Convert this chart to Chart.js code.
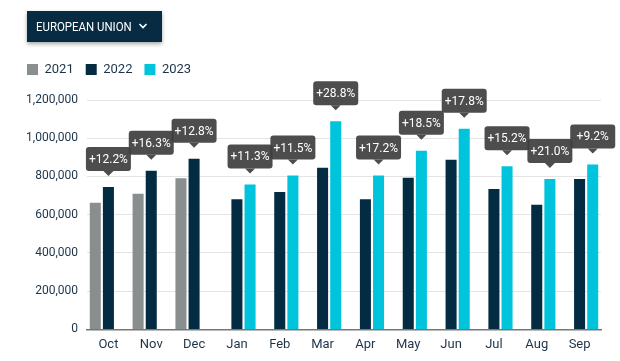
<!DOCTYPE html>
<html>
<head>
<meta charset="utf-8">
<script src="https://cdn.jsdelivr.net/npm/chart.js@4.4.0/dist/chart.umd.min.js"></script>
<style>
  body { margin: 0; background: #fff; font-family: Roboto, sans-serif; }
  #wrap { position: relative; width: 620px; height: 361px; }
  #region {
    position: absolute; left: 27px; top: 11px; width: 135px; height: 31px;
    background: #062b42; color: #fff; font-size: 13px; box-sizing: border-box;
    line-height: 31px; box-shadow: 0 2px 4px rgba(0,0,0,0.35);
  }
  #region .txt { position: absolute; left: 9px; top: 0; transform: scaleX(0.88); transform-origin: left center; white-space: nowrap; }
  #region svg { position: absolute; left: 111px; top: 11px; }
  canvas { position: absolute; left: 0; top: 0; }
</style>
</head>
<body>
<div id="wrap">
  <canvas id="tradeChart" width="620" height="361"></canvas>
  <div id="region"><span class="txt">EUROPEAN UNION</span>
    <svg width="10" height="8" viewBox="0 0 10 8"><polyline points="1.5,2 5,5.5 8.5,2" fill="none" stroke="#fff" stroke-width="1.6"/></svg>
  </div>
</div>
<script>
var months = ['Oct', 'Nov', 'Dec', 'Jan', 'Feb', 'Mar', 'Apr', 'May', 'Jun', 'Jul', 'Aug', 'Sep'];
var values2021 = [662000, 710000, 791000, null, null, null, null, null, null, null, null, null];
var values2022 = [745000, 830000, 893000, 681000, 719000, 846000, 681000, 793000, 888000, 735000, 652000, 787000];
var values2023 = [null, null, null, 758000, 805000, 1089000, 805000, 935000, 1049000, 853000, 787000, 863000];
var changeLabels = ['+12.2%', '+16.3%', '+12.8%', '+11.3%', '+11.5%', '+28.8%', '+17.2%', '+18.5%', '+17.8%', '+15.2%', '+21.0%', '+9.2%'];

var fontFamily = "Roboto, sans-serif";
var textColor = '#1d3448';

// draws the dark % change boxes above the latest bar of each month
var changeBoxes = {
    id: 'changeBoxes',
    afterDatasetsDraw: function (chart) {
        var ctx = chart.ctx;
        var m22 = chart.getDatasetMeta(1).data;
        var m23 = chart.getDatasetMeta(2).data;
        ctx.save();
        ctx.font = '12px ' + fontFamily;
        ctx.textAlign = 'center';
        ctx.textBaseline = 'middle';
        for (var i = 0; i < months.length; i++) {
            var bar = values2023[i] != null ? m23[i] : m22[i];
            var tipY = bar.y - 11;
            var w = 45, h = 24, caret = 5;
            var x0 = bar.x - w / 2, y0 = tipY - caret - h;
            ctx.fillStyle = 'rgba(62,62,62,0.92)';
            ctx.beginPath();
            ctx.roundRect(x0, y0, w, h, 3);
            ctx.fill();
            ctx.beginPath();
            ctx.moveTo(bar.x - 5, y0 + h);
            ctx.lineTo(bar.x, tipY);
            ctx.lineTo(bar.x + 5, y0 + h);
            ctx.closePath();
            ctx.fill();
            ctx.fillStyle = '#fff';
            ctx.fillText(changeLabels[i], bar.x, y0 + h / 2 + 1);
        }
        ctx.restore();
    }
};

// a bit more room between legend and plot
var legendGap = {
    id: 'legendGap',
    beforeInit: function (chart) {
        var fit = chart.legend.fit;
        chart.legend.fit = function () {
            fit.call(this);
            this.height += 14;
        };
    }
};

var ctx = document.getElementById('tradeChart');
new Chart(ctx, {
    type: 'bar',
    data: {
        labels: months,
        datasets: [
            { label: '2021', data: values2021, backgroundColor: '#898e8f' },
            { label: '2022', data: values2022, backgroundColor: '#032c42' },
            { label: '2023', data: values2023, backgroundColor: '#00c4dc' }
        ]
    },
    options: {
        responsive: false,
        animation: false,
        layout: { padding: { left: 15, right: 19, top: 51, bottom: 0 } },
        datasets: { bar: { categoryPercentage: 0.92, barPercentage: 0.84 } },
        plugins: {
            legend: {
                position: 'top',
                align: 'start',
                labels: {
                    boxWidth: 11, boxHeight: 11, padding: 12,
                    color: textColor,
                    font: { family: fontFamily, size: 13 }
                }
            },
            tooltip: { enabled: false }
        },
        scales: {
            x: {
                grid: { display: false, drawTicks: false },
                border: { color: '#777', width: 1.5 },
                ticks: { color: textColor, font: { family: fontFamily, size: 13 }, padding: 8 }
            },
            y: {
                min: 0, max: 1200000,
                grid: { color: '#e4e4e4', drawTicks: false },
                border: { display: false },
                afterFit: function (s) { s.width = 72; },
                ticks: {
                    stepSize: 200000, padding: 9,
                    color: textColor, font: { family: fontFamily, size: 12 },
                    callback: function (v) { return v.toLocaleString('en-US'); }
                }
            }
        }
    },
    plugins: [changeBoxes, legendGap]
});
</script>
</body>
</html>
